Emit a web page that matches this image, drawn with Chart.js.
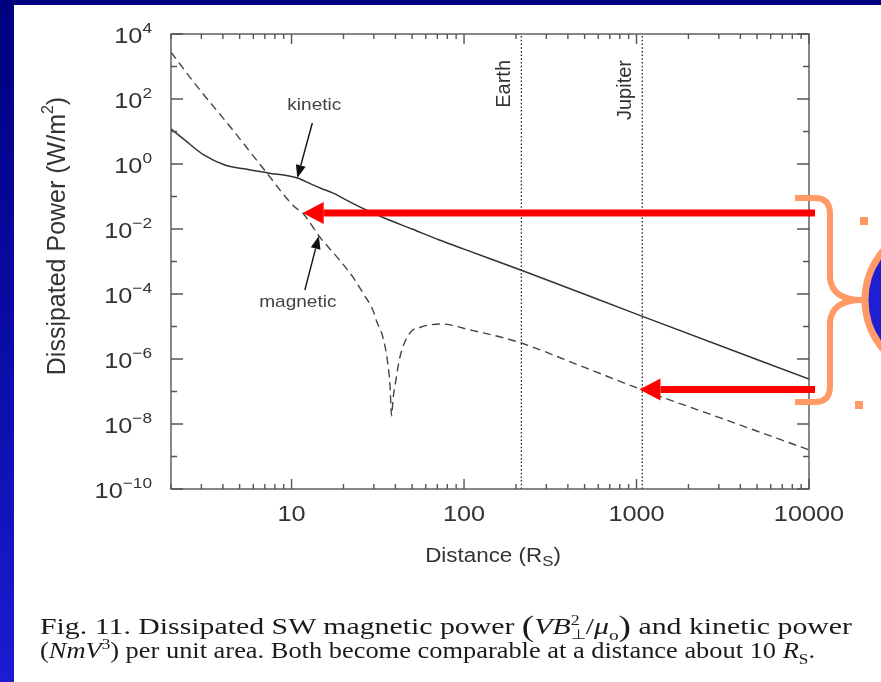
<!DOCTYPE html>
<html>
<head>
<meta charset="utf-8">
<script src="https://cdn.jsdelivr.net/npm/chart.js"></script>
<style>
  html, body { margin: 0; padding: 0; }
  body {
    width: 881px; height: 682px; overflow: hidden; position: relative;
    background: linear-gradient(to bottom, #000080 0%, #0b0ba6 50%, #1c1cd2 100%);
  }
  .sheet { position: absolute; left: 14px; top: 5px; right: 0; bottom: 0; background: #fff; }
  canvas { position: absolute; left: 0; top: 0; }
  .caption {
    position: absolute; left: 40px; white-space: nowrap; transform-origin: 0 0;
    font-family: 'Liberation Serif', 'Times New Roman', serif; font-size: 24px; color: #1a1a1a;
  }
  .paren { font-size: 1.25em; vertical-align: -0.07em; }
  .stack { display: inline-block; vertical-align: -0.35em; font-size: 0.6em; line-height: 0.95; }
  .stack span { display: block; }
  sub, sup { font-size: 0.65em; line-height: 0; }
</style>
</head>
<body>
<div class="sheet"></div>
<canvas id="power-chart" width="881" height="682"></canvas>
<div class="caption" data-width="812" style="top: 609px">Fig. 11. Dissipated SW magnetic power <span class="paren">(</span><i>VB</i><span class="stack"><span>2</span><span>⊥</span></span>/<i>μ</i><sub>o</sub><span class="paren">)</span> and kinetic power</div>
<div class="caption" data-width="775" style="top: 637px">(<i>NmV</i><sup>3</sup>) per unit area. Both become comparable at a distance about 10 <i>R</i><sub>S</sub>.</div>
<script>
// distance in solar radii, power in W/m^2
const kineticDistance = [2, 2.4, 3.1, 4.1, 5.3, 7.3, 10.8, 13, 15, 17.3, 20.3, 25, 35, 50, 72, 100, 215, 1000, 10000]
const kineticPower = [12, 5.5, 1.9, 0.93, 0.71, 0.53, 0.37, 0.24, 0.174, 0.129, 0.083, 0.047, 0.021, 0.01, 0.0046, 0.0024, 0.00054, 2.4e-5, 2.4e-7]

const magneticDistance = [2, 2.84, 4.48, 7, 10.4, 11.6, 14.6, 19, 22.7, 26, 29.6, 31.2, 33.8, 36.1, 37.2, 38, 38.8, 39.7, 42.5, 48.5, 56, 63.4, 73, 83, 108, 169, 215, 500, 1080, 3000, 10000]
const magneticPower = [2750, 240, 12.6, 0.63, 0.048, 0.031, 0.0056, 0.0011, 3.3e-4, 1.05e-4, 3.2e-5, 1.4e-5, 4.8e-6, 7.6e-7, 1.6e-7, 1.8e-8, 6.3e-8, 1.4e-7, 1.15e-6, 6.3e-6, 9.5e-6, 1.12e-5, 1.2e-5, 1.12e-5, 7.9e-6, 4.5e-6, 3.1e-6, 5.5e-7, 1.12e-7, 1.6e-8, 1.6e-9]

const planetNames = ['Earth', 'Jupiter']
const planetDistances = [215, 1080]

const xTickValues = [10, 100, 1000, 10000]
const xTickLabels = ['10', '100', '1000', '10000']
const yTickExponents = [4, 2, 0, -2, -4, -6, -8, -10]

const xRange = [2, 10000]
const yRange = [1e-10, 1e4]

// points the arrows on the figure point at
const kineticArrowTip = { x: 10.8, y: 0.37 }
const magneticArrowTip = { x: 14.4, y: 0.0061 }
const redArrowTips = [{ x: 11.6, y: 0.031 }, { x: 1040, y: 1.15e-7 }]

const INK = '#333'
const SANS = "'Liberation Sans', Arial, Helvetica, sans-serif"

function toPoints(xs, ys) {
  return xs.map((x, i) => ({ x: x, y: ys[i] }))
}

function planetLine(d) {
  return {
    data: [{ x: d, y: yRange[0] }, { x: d, y: yRange[1] }],
    borderColor: '#222',
    borderWidth: 1.3,
    borderDash: [1.5, 2.2],
    pointRadius: 0
  }
}

function drawText(ctx, str, x, y, font, align, stretch) {
  ctx.save()
  ctx.translate(x, y)
  ctx.scale(stretch || 1, 1)
  ctx.font = font
  ctx.textAlign = align
  ctx.textBaseline = 'middle'
  ctx.fillText(str, 0, 0)
  ctx.restore()
}

function textWidth(ctx, str, font, stretch) {
  ctx.save()
  ctx.font = font
  const w = ctx.measureText(str).width * (stretch || 1)
  ctx.restore()
  return w
}

function drawFrame(ctx, area, xs, ys) {
  ctx.save()
  ctx.strokeStyle = '#555'
  ctx.lineWidth = 1.4
  ctx.beginPath()
  for (let e = -10; e <= 4; e++) {
    const py = ys.getPixelForValue(Math.pow(10, e))
    const len = e % 2 === 0 ? 12 : 6
    ctx.moveTo(area.left, py)
    ctx.lineTo(area.left + len, py)
    ctx.moveTo(area.right, py)
    ctx.lineTo(area.right - len, py)
  }
  for (let d = 1; d <= 10000; d *= 10) {
    for (let m = 1; m <= 9; m++) {
      const v = m * d
      if (v < xRange[0] || v > xRange[1]) continue
      const px = xs.getPixelForValue(v)
      const len = m === 1 ? 10 : 5
      ctx.moveTo(px, area.bottom)
      ctx.lineTo(px, area.bottom - len)
      ctx.moveTo(px, area.top)
      ctx.lineTo(px, area.top + len)
    }
  }
  ctx.stroke()
  ctx.strokeRect(area.left, area.top, area.right - area.left, area.bottom - area.top)
  ctx.restore()
}

function drawTickLabels(ctx, area, xs, ys) {
  ctx.save()
  ctx.fillStyle = INK
  const base = `22px ${SANS}`
  const small = `15px ${SANS}`
  yTickExponents.forEach(e => {
    const py = ys.getPixelForValue(Math.pow(10, e))
    const exp = e < 0 ? '\u2212' + Math.abs(e) : String(e)
    const right = area.left - 19
    const ew = textWidth(ctx, exp, small, 1.15)
    drawText(ctx, exp, right - ew, py - 5, small, 'left', 1.15)
    drawText(ctx, '10', right - ew, py + 3, base, 'right', 1.15)
  })
  xTickValues.forEach((v, i) => {
    drawText(ctx, xTickLabels[i], xs.getPixelForValue(v), area.bottom + 26, base, 'center', 1.15)
  })
  ctx.restore()
}

function drawTitles(ctx, area) {
  ctx.save()
  ctx.fillStyle = INK
  // x title with subscript
  const font = `20px ${SANS}`
  const sub = `15px ${SANS}`
  const main = 'Distance (R'
  const w1 = textWidth(ctx, main, font, 1.12)
  const w2 = textWidth(ctx, 'S', sub, 1.12)
  const w3 = textWidth(ctx, ')', font, 1.12)
  const cx = (area.left + area.right) / 2 + 3
  let x = cx - (w1 + w2 + w3) / 2
  const y = area.bottom + 67
  drawText(ctx, main, x, y, font, 'left', 1.12)
  drawText(ctx, 'S', x + w1, y + 6, sub, 'left', 1.12)
  drawText(ctx, ')', x + w1 + w2, y, font, 'left', 1.12)

  // y title, rotated
  const yfont = `25px ${SANS}`
  const ysup = `16px ${SANS}`
  const t1 = 'Dissipated Power (W/m'
  const u1 = textWidth(ctx, t1, yfont)
  const u2 = textWidth(ctx, '2', ysup)
  const u3 = textWidth(ctx, ')', yfont)
  ctx.translate(58, 236)
  ctx.rotate(-Math.PI / 2)
  x = -(u1 + u2 + u3) / 2
  drawText(ctx, t1, x, 0, yfont, 'left')
  drawText(ctx, '2', x + u1, -9, ysup, 'left')
  drawText(ctx, ')', x + u1 + u2, 0, yfont, 'left')
  ctx.restore()
}

function drawPlanetLabels(ctx, area, xs) {
  ctx.save()
  ctx.fillStyle = INK
  ctx.font = `20px ${SANS}`
  ctx.textAlign = 'right'
  ctx.textBaseline = 'alphabetic'
  planetNames.forEach((name, i) => {
    const px = xs.getPixelForValue(planetDistances[i])
    ctx.save()
    ctx.translate(px - 11, area.top + 26)
    ctx.rotate(-Math.PI / 2)
    ctx.fillText(name, 0, 0)
    ctx.restore()
  })
  ctx.restore()
}

function arrow(ctx, x0, y0, x1, y1, width, headLen, headHalf, color) {
  const a = Math.atan2(y1 - y0, x1 - x0)
  const bx = x1 - Math.cos(a) * headLen
  const by = y1 - Math.sin(a) * headLen
  ctx.save()
  ctx.strokeStyle = color
  ctx.fillStyle = color
  ctx.lineWidth = width
  ctx.beginPath()
  ctx.moveTo(x0, y0)
  ctx.lineTo(bx, by)
  ctx.stroke()
  ctx.beginPath()
  ctx.moveTo(x1, y1)
  ctx.lineTo(bx - Math.sin(a) * headHalf, by + Math.cos(a) * headHalf)
  ctx.lineTo(bx + Math.sin(a) * headHalf, by - Math.cos(a) * headHalf)
  ctx.closePath()
  ctx.fill()
  ctx.restore()
}

function drawCurveLabels(ctx, xs, ys) {
  ctx.save()
  ctx.fillStyle = '#444'
  const font = `17px ${SANS}`
  const kx = xs.getPixelForValue(kineticArrowTip.x)
  const ky = ys.getPixelForValue(kineticArrowTip.y)
  arrow(ctx, kx + 15, ky - 55, kx, ky, 1.4, 13, 5, '#111')
  drawText(ctx, 'kinetic', kx + 17, ky - 73, font, 'center', 1.12)
  const mx = xs.getPixelForValue(magneticArrowTip.x)
  const my = ys.getPixelForValue(magneticArrowTip.y)
  arrow(ctx, mx - 14, my + 54, mx, my, 1.4, 13, 5, '#111')
  drawText(ctx, 'magnetic', mx - 21, my + 66, font, 'center', 1.12)
  ctx.restore()
}

function drawSlideMarks(ctx, area, xs, ys) {
  // red arrows
  redArrowTips.forEach(p => {
    const tx = xs.getPixelForValue(p.x)
    const ty = ys.getPixelForValue(p.y)
    arrow(ctx, area.right + 6, ty, tx, ty, 7, 21, 11, '#ff0000')
  })
  ctx.save()
  // blue circle cut by the right edge
  ctx.beginPath()
  ctx.arc(940, 300, 75, 0, Math.PI * 2)
  ctx.fillStyle = '#1e1ed2'
  ctx.fill()
  ctx.lineWidth = 7
  ctx.strokeStyle = '#ff9966'
  ctx.stroke()
  // brace
  ctx.lineWidth = 6
  ctx.beginPath()
  ctx.moveTo(795, 198)
  ctx.lineTo(815, 198)
  ctx.quadraticCurveTo(830, 198, 830, 214)
  ctx.lineTo(830, 278)
  ctx.quadraticCurveTo(832, 300, 862, 300)
  ctx.quadraticCurveTo(832, 300, 830, 322)
  ctx.lineTo(830, 386)
  ctx.quadraticCurveTo(830, 402, 815, 402)
  ctx.lineTo(795, 402)
  ctx.stroke()
  ctx.fillStyle = '#ff9966'
  ctx.fillRect(860, 217, 8, 8)
  ctx.fillRect(855, 401, 8, 8)
  ctx.restore()
}

const figurePlugin = {
  id: 'figure',
  afterDraw(chart) {
    const ctx = chart.ctx
    const area = chart.chartArea
    const xs = chart.scales.x
    const ys = chart.scales.y
    drawFrame(ctx, area, xs, ys)
    drawTickLabels(ctx, area, xs, ys)
    drawTitles(ctx, area)
    drawPlanetLabels(ctx, area, xs)
    drawCurveLabels(ctx, xs, ys)
    drawSlideMarks(ctx, area, xs, ys)
  }
}

const conf = {
  type: 'line',
  data: {
    datasets: [
      {
        data: toPoints(kineticDistance, kineticPower),
        borderColor: '#333',
        borderWidth: 1.5,
        cubicInterpolationMode: 'monotone',
        pointRadius: 0
      },
      {
        data: toPoints(magneticDistance, magneticPower),
        borderColor: '#444',
        borderWidth: 1.4,
        borderDash: [8, 5],
        cubicInterpolationMode: 'monotone',
        pointRadius: 0
      }
    ].concat(planetDistances.map(planetLine))
  },
  options: {
    responsive: false,
    animation: false,
    devicePixelRatio: 1,
    layout: { padding: { left: 171, top: 34, right: 72, bottom: 193 } },
    scales: {
      x: { type: 'logarithmic', min: xRange[0], max: xRange[1], display: false },
      y: { type: 'logarithmic', min: yRange[0], max: yRange[1], display: false }
    },
    plugins: { legend: { display: false }, tooltip: { enabled: false } }
  },
  plugins: [figurePlugin]
}

new Chart(document.getElementById('power-chart').getContext('2d'), conf)

document.querySelectorAll('.caption').forEach(el => {
  const w = el.getBoundingClientRect().width
  el.style.transform = `scaleX(${Number(el.dataset.width) / w})`
})
</script>
</body>
</html>
